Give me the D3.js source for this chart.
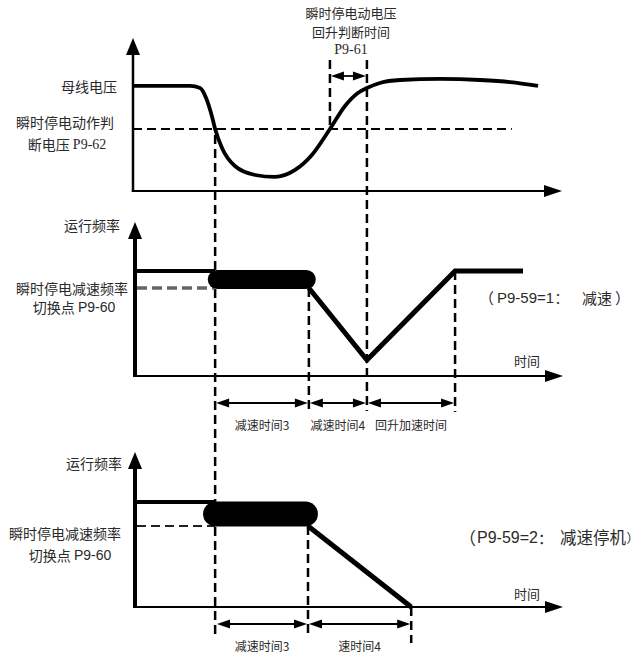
<!DOCTYPE html>
<html><head><meta charset="utf-8">
<script src="https://cdn.jsdelivr.net/npm/d3@7/dist/d3.min.js"></script>
<style>
html,body{margin:0;padding:0;background:#fff;}
svg{display:block;}
text{fill:#2a2a2a;}
</style></head>
<body>
<svg id="c" width="639" height="653"></svg>
<script>
// ---------- DATA ----------
// Panel 1: bus voltage (time units 0..100, voltage %)
const voltTime  = [0, 13.3, 15.6, 17.0, 18.4, 19.1, 20.7, 23.7, 28.4, 33.0, 37.7, 41.6, 45.8, 49.3, 52.3, 54.4, 57.4, 62.1, 71.4, 80.7, 87.7, 94.2];
const voltValue = [80.8, 80.8, 79.2, 71.5, 56.9, 47.7, 33.1, 19.2, 12.3, 10.8, 16.2, 27.7, 47.7, 65.4, 75.4, 79.2, 83.1, 85.4, 86.2, 85.4, 83.8, 80.8];
const voltThreshold = 47.7;          // P9-62
const thresholdEndTime = 88.1;
const tTrip = 19.1, tRiseStart = 45.8, tRecover = 54.4;

// Panel 2: P9-59=1 (decelerate, then re-accelerate)
const p2RunTime = [0, 19.1],  p2RunFreq = [70, 70];
const p2BandTime = [19.6, 40.3], p2BandFreq = [64.3, 64.3];
const p2DecTime = [40.9, 54.4, 74.9, 90.7], p2DecFreq = [58.7, 10.7, 70, 70];
const p2SwitchFreq = 58.7;
const p2Dims = [[19.1, 40.9, "减速时间3"], [40.9, 54.4, "减速时间4"], [54.4, 74.9, "回升加速时间"]];

// Panel 3: P9-59=2 (decelerate to stop)
const p3RunTime = [0, 19.1],  p3RunFreq = [70, 70];
const p3BandTime = [19.2, 40.1], p3BandFreq = [62, 62];
const p3DecTime = [40.7, 64.7], p3DecFreq = [54, 0];
const p3SwitchFreq = 54;
const p3Dims = [[19.3, 40.7, "减速时间3"], [40.7, 64.7, "速时间4"]];

// ---------- DRAW ----------
const svg = d3.select("#c");
const CJK = "'Noto Sans CJK SC', sans-serif";
const SERIF = "'Liberation Serif', serif";
const SANS = "'Liberation Sans', Arial, sans-serif";

const x = d3.scaleLinear().domain([0, 100]).range([133, 563]);
const yV = d3.scaleLinear().domain([0, 100]).range([191, 61]);
const yF2 = d3.scaleLinear().domain([0, 100]).range([376, 226]);
const yF3 = d3.scaleLinear().domain([0, 100]).range([607, 457]);

function tri(pts){ return "M" + pts.map(p => p.join(",")).join("L") + "Z"; }

function axes(x0, yBottom, yTop, xEnd, yw, xw){
  svg.append("line").attr("x1", x0).attr("x2", x0).attr("y1", yBottom).attr("y2", yTop + 10)
    .attr("stroke", "#000").attr("stroke-width", yw);
  svg.append("path").attr("d", tri([[x0, yTop], [x0 - 7, yTop + 17], [x0 + 7, yTop + 17]])).attr("fill", "#000");
  svg.append("line").attr("x1", x0 - yw/2).attr("x2", xEnd - 10).attr("y1", yBottom).attr("y2", yBottom)
    .attr("stroke", "#000").attr("stroke-width", xw);
  svg.append("path").attr("d", tri([[xEnd, yBottom], [xEnd - 18, yBottom - 6], [xEnd - 18, yBottom + 6]])).attr("fill", "#000");
}

function vdash(t, y1, y2, w){
  svg.append("line").attr("x1", x(t)).attr("x2", x(t)).attr("y1", y1).attr("y2", y2)
    .attr("stroke", "#000").attr("stroke-width", w || 2.5).attr("stroke-dasharray", "9,5");
}

function dimArrow(t1, t2, yy){
  const a = x(t1), b = x(t2);
  svg.append("line").attr("x1", a + 6).attr("x2", b - 6).attr("y1", yy).attr("y2", yy)
    .attr("stroke", "#000").attr("stroke-width", 1.8);
  svg.append("path").attr("d", tri([[a + 1, yy], [a + 14, yy - 4.5], [a + 14, yy + 4.5]])).attr("fill", "#000");
  svg.append("path").attr("d", tri([[b - 1, yy], [b - 14, yy - 4.5], [b - 14, yy + 4.5]])).attr("fill", "#000");
}

function label(txt, xx, yy, anchor, size, font){
  return svg.append("text").attr("x", xx).attr("y", yy).attr("text-anchor", anchor || "start")
    .attr("dominant-baseline", "central").attr("font-size", size || 14)
    .attr("font-family", font || CJK).text(txt);
}
function mixed(parts, xx, yy, anchor, size){
  const t = svg.append("text").attr("x", xx).attr("y", yy).attr("text-anchor", anchor)
    .attr("dominant-baseline", "central").attr("font-size", size);
  parts.forEach(p => t.append("tspan").attr("font-family", p[1]).text(p[0]));
  return t;
}
// pieces placed at explicit x positions: [text, font, x, size]
function placed(parts, yy){
  const t = svg.append("text").attr("y", yy).attr("dominant-baseline", "central");
  parts.forEach(p => t.append("tspan").attr("x", p[2]).attr("font-family", p[1]).attr("font-size", p[3]).text(p[0]));
  return t;
}

const lineGen = (ys) => d3.line().x(d => x(d[0])).y(d => ys(d[1]));
const zip = (a, b) => a.map((v, i) => [v, b[i]]);

// ===== Panel 1 =====
axes(133, 191, 38, 562, 2.5, 2.2);
svg.append("line").attr("x1", 133).attr("x2", x(thresholdEndTime))
  .attr("y1", yV(voltThreshold)).attr("y2", yV(voltThreshold))
  .attr("stroke", "#000").attr("stroke-width", 2.2).attr("stroke-dasharray", "9,5");
svg.append("path").datum(zip(voltTime, voltValue))
  .attr("d", lineGen(yV).curve(d3.curveMonotoneX))
  .attr("fill", "none").attr("stroke", "#000").attr("stroke-width", 3.8);
vdash(tRiseStart, 60, yV(voltThreshold));
vdash(tRecover, 60, 411);
dimArrow(tRiseStart, tRecover, 76);
label("瞬时停电动电压", 351, 12, "middle", 13);
label("回升判断时间", 351, 31, "middle", 13);
label("P9-61", 351, 49.5, "middle", 14, SERIF);
label("母线电压", 117, 86, "end", 14);
label("瞬时停电动作判", 65, 122, "middle", 14);
mixed([["断电压 ", CJK], ["P9-62", SERIF]], 67, 144, "middle", 14);

// long trip line through all panels
vdash(tTrip, yV(voltThreshold) + 6, 638);

// ===== Panel 2 =====
axes(135, 376, 222, 563, 4, 2.2);
svg.append("line").attr("x1", 137).attr("x2", x(tTrip)).attr("y1", yF2(p2SwitchFreq)).attr("y2", yF2(p2SwitchFreq))
  .attr("stroke", "#666").attr("stroke-width", 3.5).attr("stroke-dasharray", "10,5");
svg.append("path").datum(zip(p2RunTime, p2RunFreq)).attr("d", lineGen(yF2))
  .attr("fill", "none").attr("stroke", "#000").attr("stroke-width", 4);
svg.append("path").datum(zip(p2BandTime, p2BandFreq)).attr("d", lineGen(yF2))
  .attr("fill", "none").attr("stroke", "#000").attr("stroke-width", 19).attr("stroke-linecap", "round");
svg.append("path").datum(zip(p2DecTime, p2DecFreq)).attr("d", lineGen(yF2))
  .attr("fill", "none").attr("stroke", "#000").attr("stroke-width", 5).attr("stroke-linejoin", "miter");
vdash(p2DecTime[0], yF2(p2SwitchFreq), 412);
vdash(p2DecTime[2], yF2(p2DecFreq[2]), 412);
p2Dims.forEach(d => {
  dimArrow(d[0], d[1], 403);
  label(d[2], (x(d[0]) + x(d[1])) / 2, 424, "middle", 12);
});
label("运行频率", 120, 225, "end", 14);
label("瞬时停电减速频率", 128, 288, "end", 14);
mixed([["切换点 ", CJK], ["P9-60", SANS]], 74, 307, "middle", 14);
label("时间", 527, 360, "middle", 13);
placed([["（", CJK, 479, 15], ["P9-59=1", SANS, 497, 15], ["：", CJK, 554.5, 14], ["减速", CJK, 582, 15], ["）", CJK, 615, 15]], 297);

// ===== Panel 3 =====
axes(135, 607, 452, 563, 4, 2.2);
svg.append("line").attr("x1", 137).attr("x2", x(tTrip)).attr("y1", yF3(p3SwitchFreq)).attr("y2", yF3(p3SwitchFreq))
  .attr("stroke", "#222").attr("stroke-width", 2).attr("stroke-dasharray", "9,5");
svg.append("path").datum(zip(p3RunTime, p3RunFreq)).attr("d", lineGen(yF3))
  .attr("fill", "none").attr("stroke", "#000").attr("stroke-width", 4);
svg.append("path").datum(zip(p3BandTime, p3BandFreq)).attr("d", lineGen(yF3))
  .attr("fill", "none").attr("stroke", "#000").attr("stroke-width", 25).attr("stroke-linecap", "round");
svg.append("path").datum(zip(p3DecTime, p3DecFreq)).attr("d", lineGen(yF3))
  .attr("fill", "none").attr("stroke", "#000").attr("stroke-width", 5);
vdash(p3DecTime[0], yF3(p3SwitchFreq), 636);
vdash(p3DecTime[1], yF3(0), 643);
p3Dims.forEach(d => {
  dimArrow(d[0], d[1], 624);
  label(d[2], (x(d[0]) + x(d[1])) / 2, 645, "middle", 12);
});
label("运行频率", 122, 463, "end", 14);
label("瞬时停电减速频率", 121, 533, "end", 14);
mixed([["切换点 ", CJK], ["P9-60", SANS]], 70, 555, "middle", 14);
label("时间", 527, 593, "middle", 13);
placed([["（", CJK, 459, 17], ["P9-59=2", SANS, 477, 16], ["：", CJK, 538, 15], ["减速停机", CJK, 560, 16.5], ["）", CJK, 626.5, 12.5]], 537);
</script>
</body></html>
